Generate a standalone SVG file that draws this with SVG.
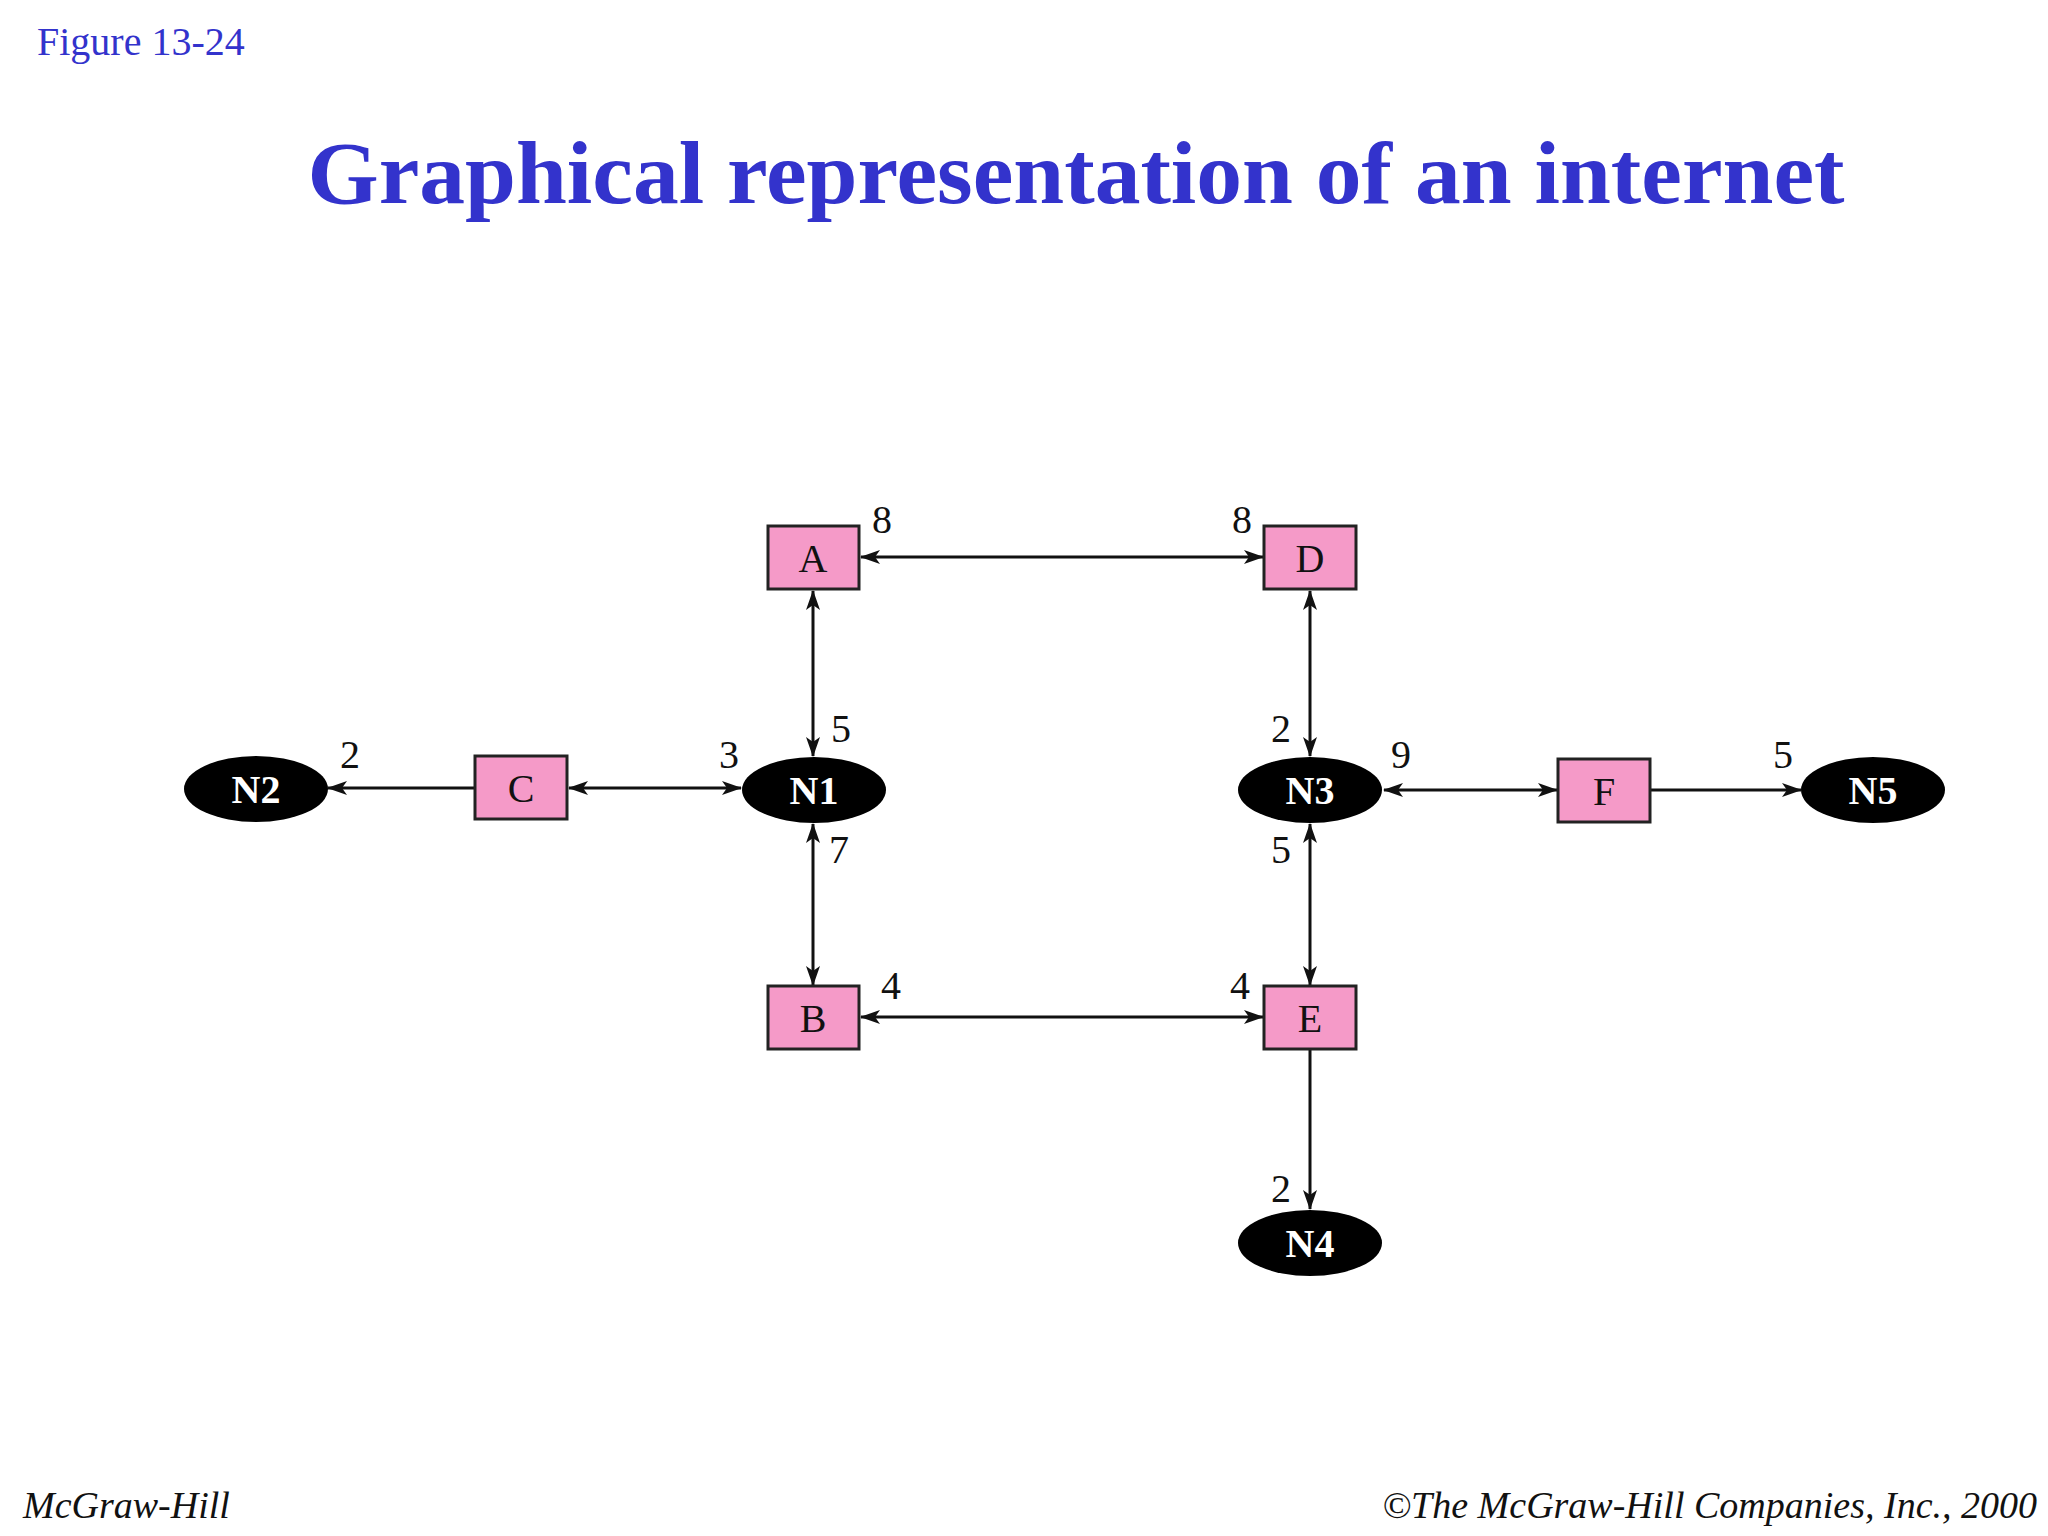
<svg xmlns="http://www.w3.org/2000/svg" width="2048" height="1536" viewBox="0 0 2048 1536">
<style>
.box{fill:#f59ac8;stroke:#222;stroke-width:3}
.net{fill:#000}
.bl{font-family:"Liberation Serif",serif;font-size:40px;text-anchor:middle;fill:#111}
.nl{font-family:"Liberation Serif",serif;font-size:40px;font-weight:bold;text-anchor:middle;fill:#fff}
.w{font-family:"Liberation Serif",serif;font-size:40px;text-anchor:middle;fill:#111}
.c{stroke:#111;stroke-width:3;fill:none;marker-end:url(#ah)}
.cb{stroke:#111;stroke-width:3;fill:none;marker-end:url(#ah);marker-start:url(#ahs)}
.f{font-family:"Liberation Serif",serif;font-style:italic;font-size:38px;fill:#111}
</style>
<defs>
<marker id="ah" viewBox="0 0 20 14" refX="19" refY="7" markerWidth="20" markerHeight="14" markerUnits="userSpaceOnUse" orient="auto"><path d="M0,0 L20,7 L0,14 L5,7 Z" fill="#111"/></marker>
<marker id="ahs" viewBox="0 0 20 14" refX="19" refY="7" markerWidth="20" markerHeight="14" markerUnits="userSpaceOnUse" orient="auto-start-reverse"><path d="M0,0 L20,7 L0,14 L5,7 Z" fill="#111"/></marker>
</defs>
<rect width="2048" height="1536" fill="#fff"/>
<text x="37" y="55" font-family="Liberation Serif,serif" font-size="40" fill="#3333cc">Figure  13-24</text>
<text x="1076" y="203" font-family="Liberation Serif,serif" font-size="88" font-weight="bold" fill="#3333cc" text-anchor="middle" textLength="1537" lengthAdjust="spacingAndGlyphs">Graphical representation of an internet</text>
<g id="connectors">
<line class="cb" x1="861" y1="557" x2="1263" y2="557"/>
<line class="cb" x1="813" y1="591" x2="813" y2="756"/>
<line class="cb" x1="1310" y1="591" x2="1310" y2="756"/>
<line class="cb" x1="569" y1="788" x2="741" y2="788"/>
<line class="c" x1="475" y1="788" x2="328" y2="788"/>
<line class="cb" x1="1384" y1="790" x2="1557" y2="790"/>
<line class="c" x1="1651" y1="790" x2="1801" y2="790"/>
<line class="cb" x1="813" y1="824" x2="813" y2="985"/>
<line class="cb" x1="1310" y1="824" x2="1310" y2="985"/>
<line class="cb" x1="861" y1="1017" x2="1263" y2="1017"/>
<line class="c" x1="1310" y1="1050" x2="1310" y2="1209"/>
</g>
<g id="A"><rect class="box" x="768" y="526" width="91" height="63"/><text class="bl" x="813" y="572">A</text></g>
<g id="D"><rect class="box" x="1264" y="526" width="92" height="63"/><text class="bl" x="1310" y="572">D</text></g>
<g id="C"><rect class="box" x="475" y="756" width="92" height="63"/><text class="bl" x="521" y="802">C</text></g>
<g id="F"><rect class="box" x="1558" y="759" width="92" height="63"/><text class="bl" x="1604" y="805">F</text></g>
<g id="B"><rect class="box" x="768" y="986" width="91" height="63"/><text class="bl" x="813" y="1032">B</text></g>
<g id="E"><rect class="box" x="1264" y="986" width="92" height="63"/><text class="bl" x="1310" y="1032">E</text></g>
<g id="N1"><ellipse class="net" cx="814" cy="790" rx="72" ry="33"/><text class="nl" x="814" y="804">N1</text></g>
<g id="N2"><ellipse class="net" cx="256" cy="789" rx="72" ry="33"/><text class="nl" x="256" y="803">N2</text></g>
<g id="N3"><ellipse class="net" cx="1310" cy="790" rx="72" ry="33"/><text class="nl" x="1310" y="804">N3</text></g>
<g id="N5"><ellipse class="net" cx="1873" cy="790" rx="72" ry="33"/><text class="nl" x="1873" y="804">N5</text></g>
<g id="N4"><ellipse class="net" cx="1310" cy="1243" rx="72" ry="33"/><text class="nl" x="1310" y="1257">N4</text></g>
<g id="weights">
<text class="w" x="882" y="533">8</text>
<text class="w" x="1242" y="533">8</text>
<text class="w" x="841" y="742">5</text>
<text class="w" x="1281" y="742">2</text>
<text class="w" x="729" y="768">3</text>
<text class="w" x="350" y="768">2</text>
<text class="w" x="1401" y="768">9</text>
<text class="w" x="1783" y="768">5</text>
<text class="w" x="839" y="863">7</text>
<text class="w" x="1281" y="863">5</text>
<text class="w" x="891" y="999">4</text>
<text class="w" x="1240" y="999">4</text>
<text class="w" x="1281" y="1202">2</text>
</g>
<text class="f" x="23" y="1518">McGraw-Hill</text>
<text class="f" x="2037" y="1518" text-anchor="end">©The McGraw-Hill Companies, Inc., 2000</text>
</svg>
